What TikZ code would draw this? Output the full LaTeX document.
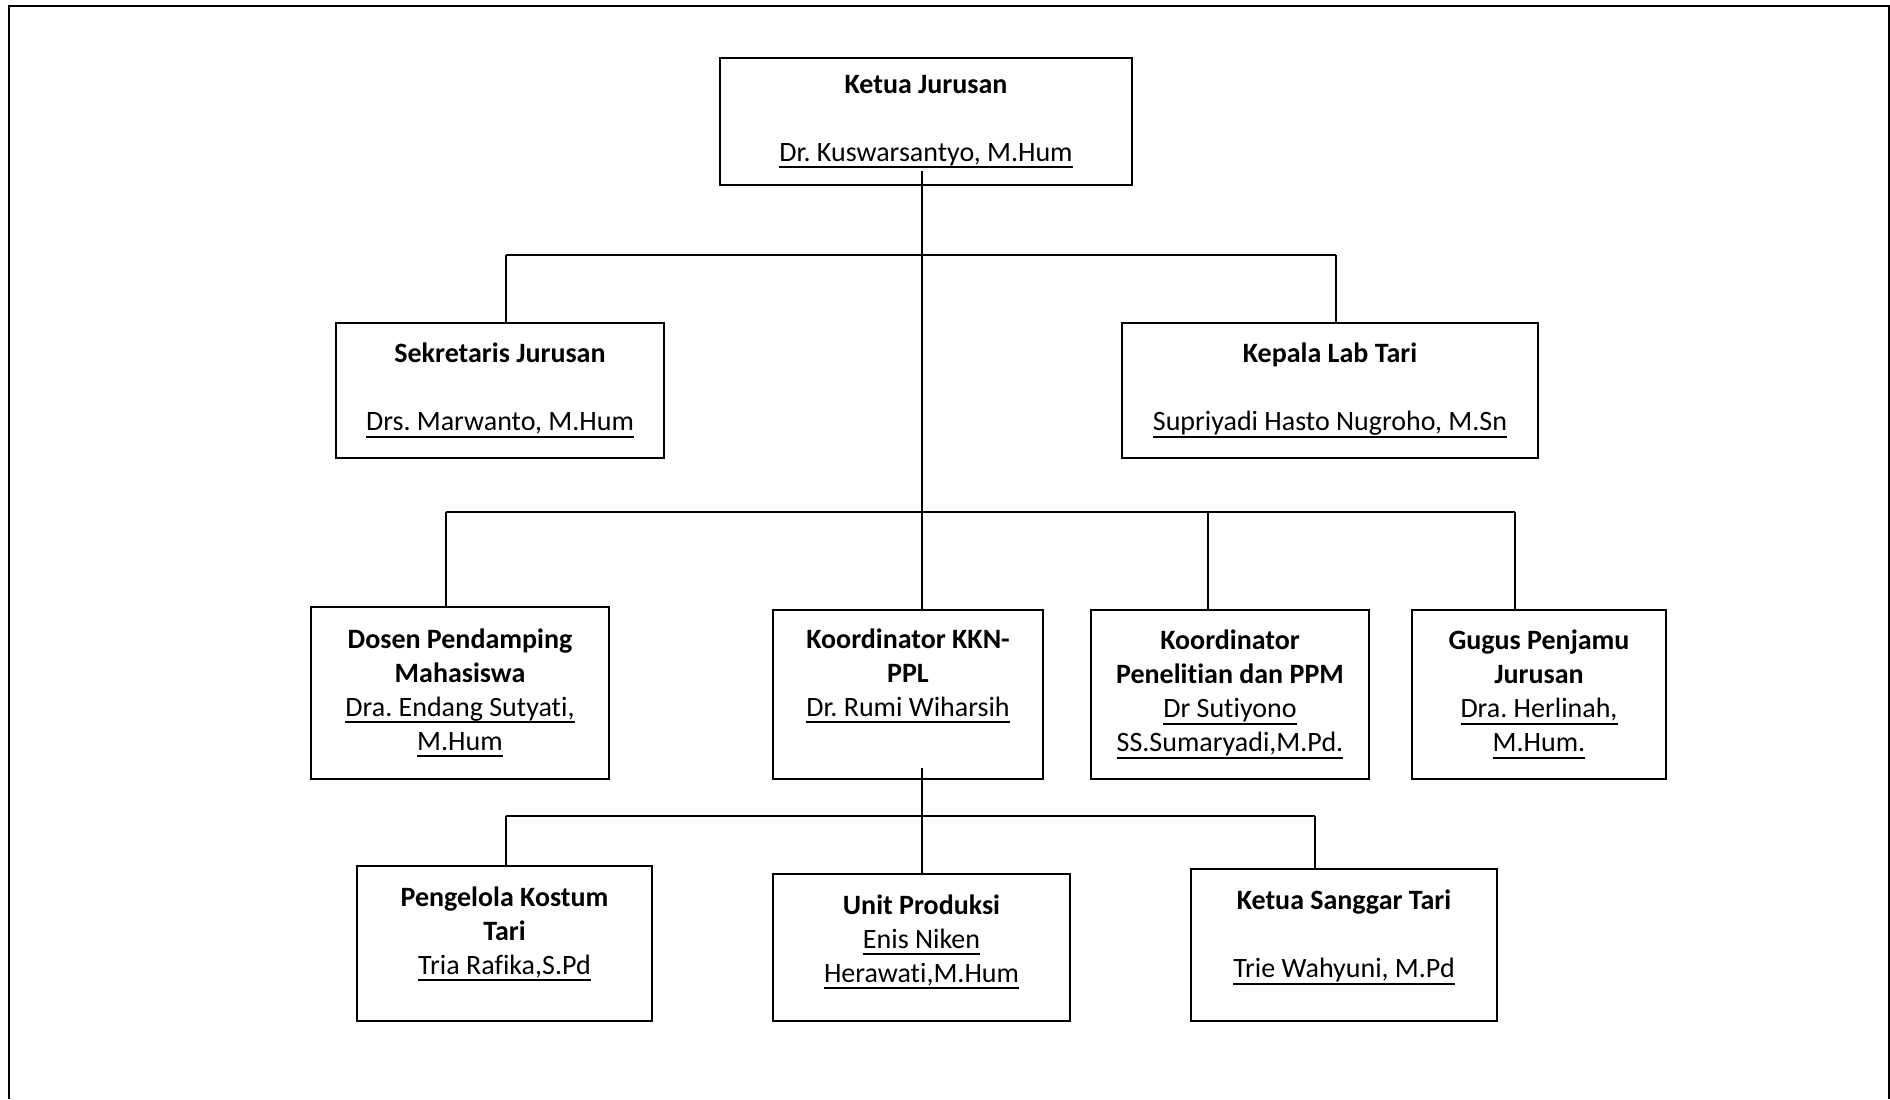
\documentclass[tikz,border=0pt]{standalone}
\usepackage{fontspec}
\setmainfont{Carlito}[Ligatures=NoCommon]
\usepackage{tikz}
\frenchspacing
\newcommand{\uln}[1]{\setbox0\hbox{#1}\rlap{\rule[-3.5pt]{\wd0}{1pt}}\box0}

\begin{document}
\begin{tikzpicture}[x=0.5pt,y=-0.5pt,
  box/.style={draw, line width=1pt, align=center, inner sep=0pt,
    font=\fontsize{14}{17}\selectfont},
  bar/.style={line width=1.3pt},
  link/.style={line width=0.8pt}]
\useasboundingbox (0,0) rectangle (1890,1099);
\draw[line width=1pt] (9,1099) -- (9,6) -- (1889,6) -- (1889,1099);

\node[box, minimum width=206pt, minimum height=63.5pt] (ketua) at (926,121.5)
  {\textbf{Ketua Jurusan}\\ \strut\\ \uln{Dr. Kuswarsantyo, M.Hum}};
\node[box, minimum width=164pt, minimum height=67.5pt] (sekr) at (500,390.5)
  {\textbf{Sekretaris Jurusan}\\ \strut\\ \uln{Drs. Marwanto, M.Hum}};
\node[box, minimum width=208pt, minimum height=67.5pt] (kepala) at (1330,390.5)
  {\textbf{Kepala Lab Tari}\\ \strut\\ \uln{Supriyadi Hasto Nugroho, M.Sn}};
\node[box, minimum width=149pt, minimum height=86pt] (dosen) at (460,693)
  {\textbf{Dosen Pendamping}\\ \textbf{Mahasiswa}\\ \uln{Dra. Endang Sutyati,}\\ \uln{M.Hum}};
\node[box, minimum width=135pt, minimum height=84.5pt] (kkn) at (908,694.5)
  {\textbf{Koordinator KKN-}\\ \textbf{PPL}\\ \uln{Dr. Rumi Wiharsih}\\ \strut};
\node[box, minimum width=139pt, minimum height=84.5pt] (penel) at (1230,694.5)
  {\textbf{Koordinator}\\ \textbf{Penelitian dan PPM}\\ \uln{Dr Sutiyono}\\ \uln{SS.Sumaryadi,M.Pd.}};
\node[box, minimum width=127pt, minimum height=84.5pt] (gugus) at (1539,694.5)
  {\textbf{Gugus Penjamu}\\ \textbf{Jurusan}\\ \uln{Dra. Herlinah,}\\ \uln{M.Hum.}};
\node[box, minimum width=147.5pt, minimum height=77.5pt] (kostum) at (504.5,943.5)
  {\textbf{Pengelola Kostum}\\ \textbf{Tari}\\ \uln{Tria Rafika,S.Pd}\\[-9pt] \strut};
\node[box, minimum width=148.5pt, minimum height=73.5pt] (unit) at (921.5,947.5)
  {\textbf{Unit Produksi}\\ \uln{Enis Niken}\\ \uln{Herawati,M.Hum}\\[-13pt] \strut};
\node[box, minimum width=153pt, minimum height=76pt] (sanggar) at (1344,945)
  {\textbf{Ketua Sanggar Tari}\\ \strut\\ \uln{Trie Wahyuni, M.Pd}\\[-11pt] \strut};

% bars and trunk points
\coordinate (top) at (922,171);
\coordinate (mid) at (922,768);
\coordinate (b1l) at (506,255);
\coordinate (b1r) at (1336,255);
\coordinate (b2l) at (446,512);
\coordinate (b2m) at (1208,512);
\coordinate (b2r) at (1515,512);
\coordinate (b3l) at (506,816);
\coordinate (b3r) at (1315,816);

\draw[link] (top) -- (top |- kkn.north);
\draw[link] (mid) -- (mid |- unit.north);
\draw[bar] (b1l) -- (b1r);
\draw[bar] (b2l) -- (b2r);
\draw[bar] (b3l) -- (b3r);
\foreach \c/\n in {b1l/sekr,b1r/kepala,b2l/dosen,b2m/penel,b2r/gugus,b3l/kostum,b3r/sanggar}
\draw[link] (\c) -- (\c |- \n.north);
\end{tikzpicture}
\end{document}
